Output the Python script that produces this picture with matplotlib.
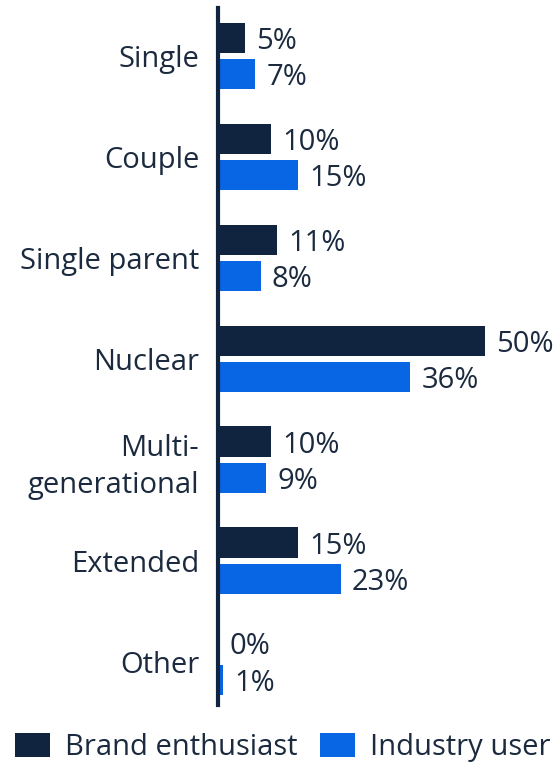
import matplotlib.pyplot as plt
from matplotlib.patches import Patch

# data
categories = ["Single", "Couple", "Single parent", "Nuclear",
              "Multi-\ngenerational", "Extended", "Other"]
brand_enthusiast = [5, 10, 11, 50, 10, 15, 0]
industry_user = [7, 15, 8, 36, 9, 23, 1]

DARK = "#11243f"
BLUE = "#0866e4"
TEXT = "#1b2a3e"
FS = 21

plt.rcParams["font.family"] = ["Open Sans", "DejaVu Sans"]

fig = plt.figure(figsize=(5.56, 7.65), dpi=100)
ax = fig.add_axes([0.392, 0.0784, 0.608, 0.911])

h = 0.30
off = 0.18
ys = list(range(len(categories)))

ax.barh([y - off for y in ys], brand_enthusiast, height=h, color=DARK)
ax.barh([y + off for y in ys], industry_user, height=h, color=BLUE)

for y, v in zip(ys, brand_enthusiast):
    ax.text(v + 2.1, y - off, f"{v}%", va="center_baseline", ha="left",
            fontsize=FS, color=TEXT)
for y, v in zip(ys, industry_user):
    ax.text(v + 2.1, y + off, f"{v}%", va="center_baseline", ha="left",
            fontsize=FS, color=TEXT)

ax.set_xlim(0, 63.3)
ax.set_ylim(6.43, -0.475)
ax.set_yticks(ys)
ax.set_yticklabels(categories, fontsize=FS, color=TEXT, ha="right",
                   va="center_baseline", linespacing=1.35)
ax.tick_params(axis="y", length=0, pad=13.5)
ax.set_xticks([])

for s in ["top", "right", "bottom"]:
    ax.spines[s].set_visible(False)
ax.spines["left"].set_color(DARK)
ax.spines["left"].set_linewidth(3)
ax.spines["left"].set_zorder(5)

handles = [Patch(facecolor=DARK, label="Brand enthusiast"),
           Patch(facecolor=BLUE, label="Industry user")]
fig.legend(handles=handles, loc="center left", bbox_to_anchor=(0.027, 0.023),
           ncol=2, frameon=False, fontsize=FS, handlelength=1.2,
           handleheight=0.86, handletextpad=0.5, columnspacing=0.8,
           labelcolor=TEXT, borderaxespad=0, borderpad=0)

fig.savefig("out.png", dpi=100)
